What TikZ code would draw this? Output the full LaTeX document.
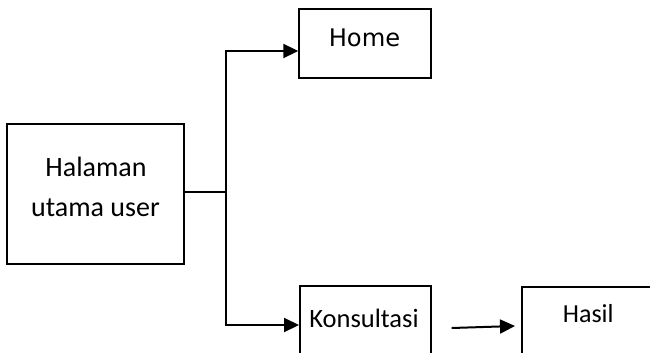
\documentclass[tikz,border=0pt]{standalone}
\usepackage{fontspec}
\setmainfont{Carlito}
\newfontfamily\homefont{DejaVu Sans}
\usetikzlibrary{arrows.meta}
\tikzset{
  box/.style={draw, line width=2pt, inner sep=0pt, rectangle},
  lbl/.style={inner sep=0pt, anchor=base, font=\fontsize{26.5}{30}\selectfont},
  conn/.style={line width=2pt},
  arr/.style={conn, -{Triangle[length=15pt,width=14pt]}}
}
\begin{document}
\begin{tikzpicture}[x=1pt,y=-1pt]
  \useasboundingbox (0,0) rectangle (650,353);
  \clip (0,0) rectangle (650,353);
  % boxes
  \node[box, minimum width=176.7pt, minimum height=140pt] (main) at (95.65,194) {};
  \node[box, minimum width=131.4pt, minimum height=69pt] (home) at (365,43.5) {};
  \node[box, minimum width=130.7pt, minimum height=94pt] (kons) at (365.35,333) {};
  \node[box, minimum width=158pt, minimum height=93pt] (hasil) at (601,333.5) {};
  % labels
  \node[lbl, font=\fontsize{28}{32}\selectfont] (mainA) at (96,176.7) {Halaman};
  \node[lbl, font=\fontsize{28}{32}\selectfont] (mainB) at (95.5,216.7) {utama user};
  \node[lbl, font=\homefont\fontsize{24.2}{28}\selectfont] (homeT) at (364.5,46.7) {Home};
  \node[lbl] (konsT) at (364,327.3) {Konsultasi};
  \node[lbl, font=\fontsize{26}{30}\selectfont] (hasilT) at (588.3,322.3) {Hasil};
  % connectors
  \coordinate (j) at (226,192);
  \draw[conn] ([yshift=2pt]main.east) -- (j);
  \draw[arr] (j) |- ([yshift=-7.5pt]home.west);
  \draw[arr] (j) |- ([yshift=8pt]kons.west);
  \draw[arr] ([xshift=20pt,yshift=5pt]kons.east) -- ([xshift=-6pt,yshift=7.5pt]hasil.west);
\end{tikzpicture}
\end{document}
